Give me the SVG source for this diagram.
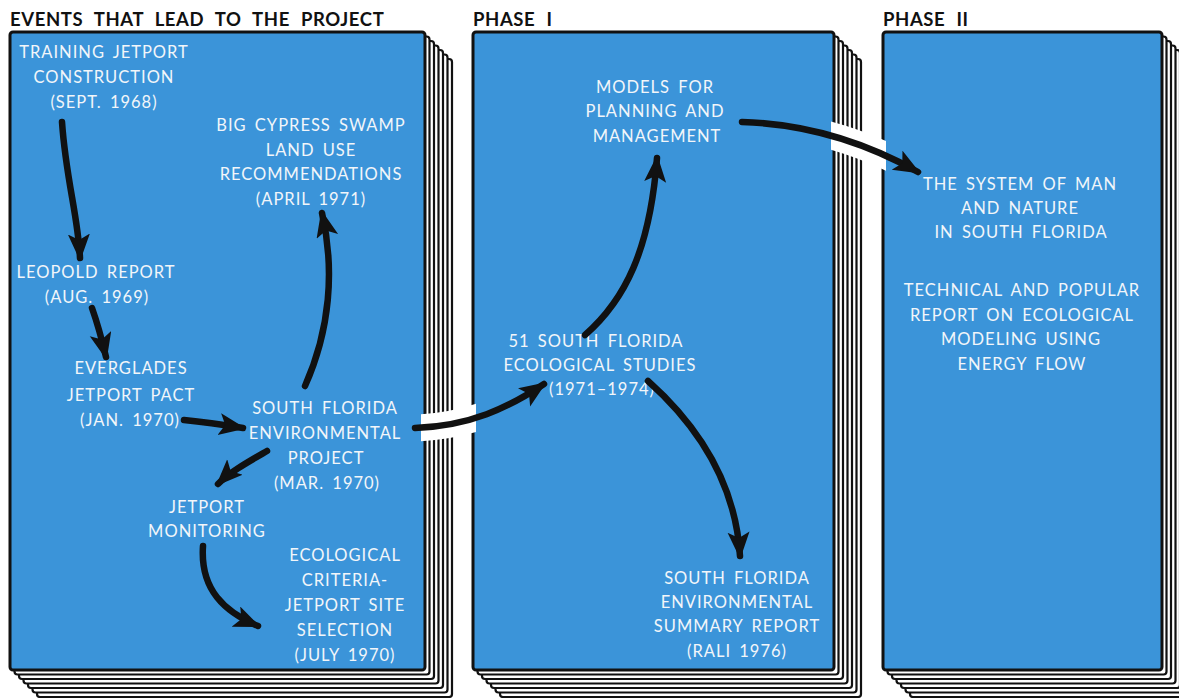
<svg xmlns="http://www.w3.org/2000/svg" width="1179" height="698" viewBox="0 0 1179 698">
<style>
.sheet{fill:#ffffff;stroke:#111;stroke-width:2.2}
.panel{fill:#3b94d9;stroke:#111;stroke-width:3}
.hdr{font-family:Lato,"Liberation Sans",sans-serif;font-weight:bold;font-size:18.5px;fill:#111;letter-spacing:0.6px;word-spacing:6px}
.t{font-family:Lato,"Liberation Sans",sans-serif;font-size:16.5px;fill:#f2f6fa;text-anchor:middle;letter-spacing:1px;word-spacing:3px}
.arr{fill:none;stroke:#111;stroke-width:6.5;stroke-linecap:round;marker-end:url(#ah)}
.halo{fill:none;stroke:#fff;stroke-width:27}
</style>
<defs>
<marker id="ah" markerUnits="userSpaceOnUse" markerWidth="30" markerHeight="24" refX="24" refY="11" orient="auto" viewBox="0 0 30 24">
<path d="M0,0 L27,11 L0,22 L6,11 Z" fill="#111"/>
</marker>
<clipPath id="gap1"><rect x="421" y="0" width="55" height="698"/></clipPath>
<clipPath id="gap2"><rect x="831" y="0" width="55" height="698"/></clipPath>
</defs>

<g id="headers">
<text class="hdr" x="10" y="26">EVENTS THAT LEAD TO THE PROJECT</text>
<text class="hdr" x="473" y="26">PHASE I</text>
<text class="hdr" x="883" y="26">PHASE II</text>
</g>

<g id="panel-events">
<rect class="sheet" x="37" y="59" width="415" height="638" rx="3"/>
<rect class="sheet" x="32.5" y="54.5" width="415" height="638" rx="3"/>
<rect class="sheet" x="28" y="50" width="415" height="638" rx="3"/>
<rect class="sheet" x="23.5" y="45.5" width="415" height="638" rx="3"/>
<rect class="sheet" x="19" y="41" width="415" height="638" rx="3"/>
<rect class="sheet" x="14.5" y="36.5" width="415" height="638" rx="3"/>
<rect class="panel" x="10" y="32" width="415" height="638" rx="3"/>
</g>
<g id="panel-phase1">
<g transform="translate(463,0)">
<rect class="sheet" x="37" y="59" width="361" height="638" rx="3"/>
<rect class="sheet" x="32.5" y="54.5" width="361" height="638" rx="3"/>
<rect class="sheet" x="28" y="50" width="361" height="638" rx="3"/>
<rect class="sheet" x="23.5" y="45.5" width="361" height="638" rx="3"/>
<rect class="sheet" x="19" y="41" width="361" height="638" rx="3"/>
<rect class="sheet" x="14.5" y="36.5" width="361" height="638" rx="3"/>
<rect class="panel" x="10" y="32" width="361" height="638" rx="3"/>
</g>
</g>
<g id="panel-phase2">
<g transform="translate(873,0)">
<rect class="sheet" x="37" y="59" width="279" height="638" rx="3"/>
<rect class="sheet" x="32.5" y="54.5" width="279" height="638" rx="3"/>
<rect class="sheet" x="28" y="50" width="279" height="638" rx="3"/>
<rect class="sheet" x="23.5" y="45.5" width="279" height="638" rx="3"/>
<rect class="sheet" x="19" y="41" width="279" height="638" rx="3"/>
<rect class="sheet" x="14.5" y="36.5" width="279" height="638" rx="3"/>
<rect class="panel" x="10" y="32" width="279" height="638" rx="3"/>
</g>
</g>

<g id="node-training">
<text class="t" x="104" y="58">TRAINING JETPORT</text>
<text class="t" x="104" y="83">CONSTRUCTION</text>
<text class="t" x="104" y="108">(SEPT. 1968)</text>
</g>
<g id="node-bigcypress">
<text class="t" x="311" y="131">BIG CYPRESS SWAMP</text>
<text class="t" x="311" y="156">LAND USE</text>
<text class="t" x="311" y="180">RECOMMENDATIONS</text>
<text class="t" x="311" y="205">(APRIL 1971)</text>
</g>
<g id="node-leopold">
<text class="t" x="96" y="278">LEOPOLD REPORT</text>
<text class="t" x="97" y="303">(AUG. 1969)</text>
</g>
<g id="node-pact">
<text class="t" x="131" y="374">EVERGLADES</text>
<text class="t" x="131" y="401">JETPORT PACT</text>
<text class="t" x="130" y="426">(JAN. 1970)</text>
</g>
<g id="node-sfep">
<text class="t" x="325" y="414">SOUTH FLORIDA</text>
<text class="t" x="325" y="439">ENVIRONMENTAL</text>
<text class="t" x="326" y="464">PROJECT</text>
<text class="t" x="327" y="489">(MAR. 1970)</text>
</g>
<g id="node-monitoring">
<text class="t" x="207" y="513">JETPORT</text>
<text class="t" x="207" y="537">MONITORING</text>
</g>
<g id="node-criteria">
<text class="t" x="345" y="561">ECOLOGICAL</text>
<text class="t" x="345" y="586">CRITERIA-</text>
<text class="t" x="345" y="611">JETPORT SITE</text>
<text class="t" x="345" y="636">SELECTION</text>
<text class="t" x="345" y="661">(JULY 1970)</text>
</g>
<g id="node-models">
<text class="t" x="655" y="93">MODELS FOR</text>
<text class="t" x="655" y="117">PLANNING AND</text>
<text class="t" x="657" y="142">MANAGEMENT</text>
</g>
<g id="node-studies">
<text class="t" x="596" y="347">51 SOUTH FLORIDA</text>
<text class="t" x="600" y="371">ECOLOGICAL STUDIES</text>
<text class="t" x="602" y="395">(1971–1974)</text>
</g>
<g id="node-summary">
<text class="t" x="737" y="584">SOUTH FLORIDA</text>
<text class="t" x="737" y="608">ENVIRONMENTAL</text>
<text class="t" x="737" y="632">SUMMARY REPORT</text>
<text class="t" x="737" y="657">(RALI 1976)</text>
</g>
<g id="node-system">
<text class="t" x="1020" y="190">THE SYSTEM OF MAN</text>
<text class="t" x="1020" y="214">AND NATURE</text>
<text class="t" x="1021" y="238">IN SOUTH FLORIDA</text>
</g>
<g id="node-report">
<text class="t" x="1022" y="296">TECHNICAL AND POPULAR</text>
<text class="t" x="1022" y="321">REPORT ON ECOLOGICAL</text>
<text class="t" x="1021" y="345">MODELING USING</text>
<text class="t" x="1022" y="370">ENERGY FLOW</text>
</g>

<g id="connectors">
<path class="halo" clip-path="url(#gap1)" d="M415,428 C470,426 508,408 544,384"/>
<path class="halo" clip-path="url(#gap2)" d="M742,122 C810,124 870,145 918,172"/>
<path class="arr" d="M62,122 C66,180 78,215 80,258"/>
<path class="arr" d="M92,308 C98,325 102,340 106,357"/>
<path class="arr" d="M184,420 C205,422 225,425 243,428"/>
<path class="arr" d="M305,386 C330,330 335,270 322,213"/>
<path class="arr" d="M267,451 C248,462 230,472 218,484"/>
<path class="arr" d="M203,546 C200,590 225,612 258,626"/>
<path class="arr" d="M415,428 C470,426 508,408 544,384"/>
<path class="arr" d="M585,335 C625,300 650,250 657,158"/>
<path class="arr" d="M648,381 C705,432 736,490 740,556"/>
<path class="arr" d="M742,122 C810,124 870,145 918,172"/>
</g>
</svg>
